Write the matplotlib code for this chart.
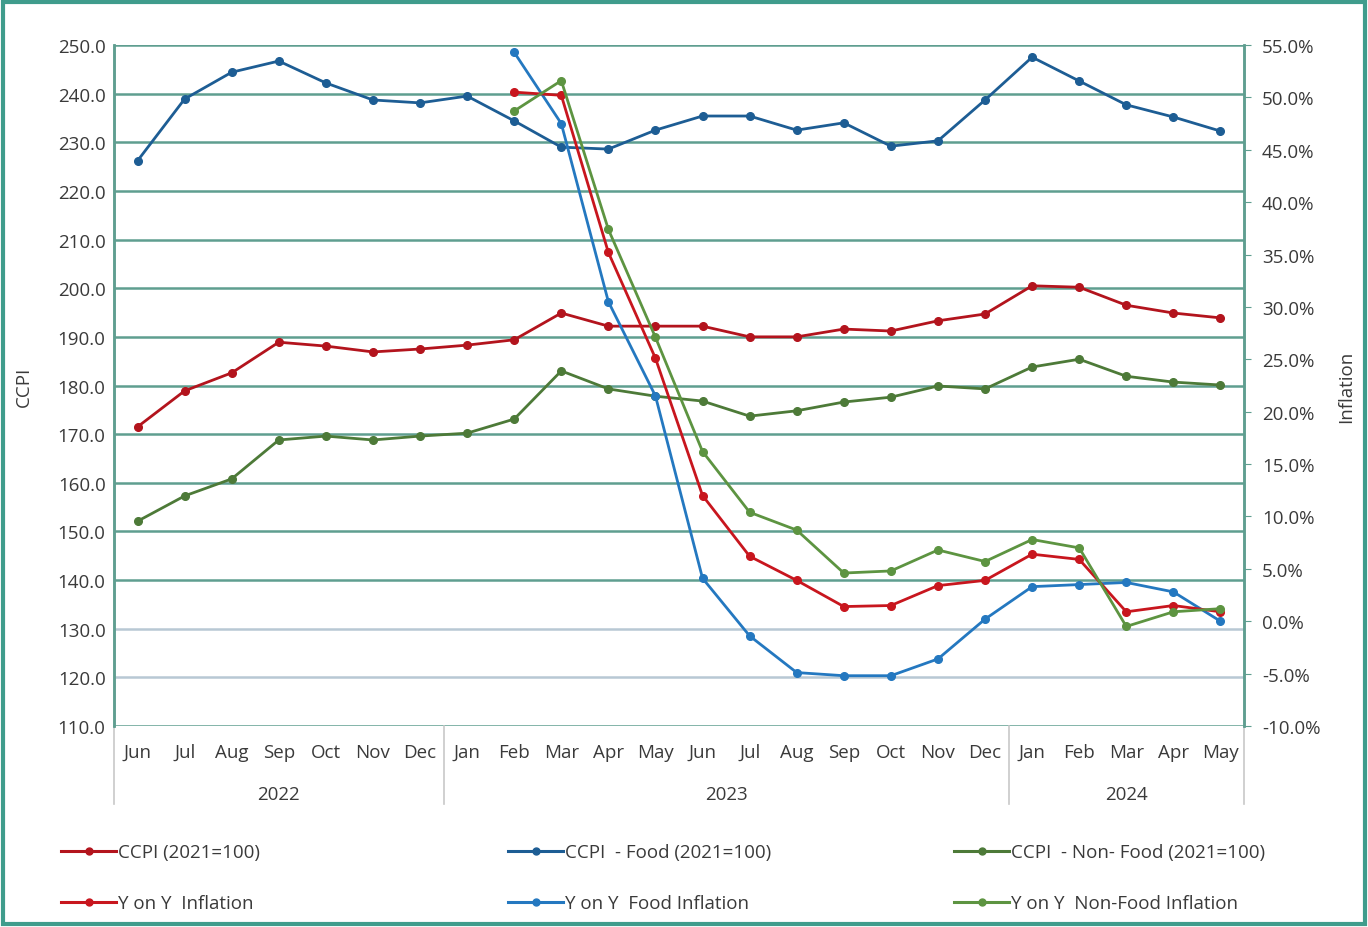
import numpy as np
import matplotlib.pyplot as plt
from matplotlib.lines import Line2D
from matplotlib.patches import Rectangle
import matplotlib.transforms as mtransforms

plt.rcParams['font.family'] = ['Open Sans', 'DejaVu Sans']

months = ['Jun', 'Jul', 'Aug', 'Sep', 'Oct', 'Nov', 'Dec',
          'Jan', 'Feb', 'Mar', 'Apr', 'May', 'Jun', 'Jul', 'Aug', 'Sep', 'Oct', 'Nov', 'Dec',
          'Jan', 'Feb', 'Mar', 'Apr', 'May']
years = ['2022', '2023', '2024']
year_spans = [(0, 7), (7, 19), (19, 24)]

ccpi = [171.5, 178.9, 182.6, 188.9, 188.1, 186.9, 187.5,
        188.3, 189.4, 194.9, 192.2, 192.2, 192.2, 190.0, 190.0, 191.6, 191.2, 193.3, 194.7,
        200.5, 200.2, 196.5, 194.9, 193.9]
ccpi_food = [226.2, 238.9, 244.4, 246.7, 242.2, 238.7, 238.1,
             239.5, 234.4, 229.0, 228.6, 232.5, 235.4, 235.4, 232.5, 234.0, 229.2, 230.3, 238.7,
             247.5, 242.6, 237.7, 235.2, 232.3]
ccpi_nonfood = [152.1, 157.3, 160.8, 168.8, 169.6, 168.8, 169.6,
                170.2, 173.1, 183.0, 179.3, 177.8, 176.8, 173.7, 174.8, 176.6, 177.6, 179.9, 179.3,
                183.8, 185.4, 181.9, 180.7, 180.1]

# inflation series start at Feb 2023 (index 8)
infl_start = 8
infl = [50.5, 50.2, 35.2, 25.1, 12.0, 6.2, 3.9, 1.4, 1.5, 3.4, 3.9, 6.4, 5.9, 0.9, 1.5, 0.9]
infl_food = [54.3, 47.5, 30.5, 21.5, 4.1, -1.4, -4.9, -5.2, -5.2, -3.6, 0.2, 3.3, 3.5, 3.7, 2.8, 0.0]
infl_nonfood = [48.7, 51.6, 37.4, 27.1, 16.2, 10.4, 8.7, 4.6, 4.8, 6.8, 5.7, 7.8, 7.0, -0.5, 0.9, 1.2]

c_ccpi = '#b3141d'
c_food = '#1d5d94'
c_nonfood = '#4d7a38'
c_infl = '#c8161e'
c_infl_food = '#2478c0'
c_infl_nonfood = '#5d9441'
teal = '#5f9e90'
txt = '#3a3a3a'

fig = plt.figure(figsize=(13.68, 9.28), dpi=100)
ax = fig.add_axes([114/1368, 1-727/928, (1244-114)/1368, (727-46)/928])
ax2 = ax.twinx()

x = np.arange(len(months))
xi = x[infl_start:]

lw = 2.0
ms = 5.5
ax.plot(x, ccpi, color=c_ccpi, lw=lw, marker='o', ms=ms, zorder=3)
ax.plot(x, ccpi_food, color=c_food, lw=lw, marker='o', ms=ms, zorder=3)
ax.plot(x, ccpi_nonfood, color=c_nonfood, lw=lw, marker='o', ms=ms, zorder=3)
ax2.plot(xi, infl_food, color=c_infl_food, lw=lw, marker='o', ms=ms)
ax2.plot(xi, infl, color=c_infl, lw=lw, marker='o', ms=ms)
ax2.plot(xi, infl_nonfood, color=c_infl_nonfood, lw=lw, marker='o', ms=ms)

ax.set_xlim(-0.5, len(months)-0.5)
ax.set_ylim(110, 250)
ax.set_yticks(np.arange(110, 251, 10))
ax.set_yticklabels(['%.1f' % v for v in np.arange(110, 251, 10)])
ax2.set_ylim(-10, 55)
ax2.set_yticks(np.arange(-10, 56, 5))
ax2.set_yticklabels(['%.1f%%' % v for v in np.arange(-10, 56, 5)])

for v in np.arange(110, 251, 10):
    gc = '#b8c8d4' if v in (120, 130) else teal
    ax.axhline(v, color=gc, lw=1.8, zorder=1)

ax.set_xticks(x)
ax.set_xticklabels(months)
ax.tick_params(axis='x', length=0, pad=12, labelsize=13.5, labelcolor=txt)
ax.tick_params(axis='y', length=0, pad=6, labelsize=13.5, labelcolor=txt)
ax2.tick_params(axis='y', length=5, color=teal, pad=8, labelsize=13.5, labelcolor=txt)

for a in (ax, ax2):
    a.spines['top'].set_visible(False)
    a.spines['bottom'].set_visible(False)
    a.spines['left'].set_color(teal)
    a.spines['right'].set_color(teal)
    a.spines['left'].set_linewidth(1.8)
    a.spines['right'].set_linewidth(1.8)

ax.set_ylabel('CCPI', fontsize=13.5, color=txt, labelpad=18)
ax2.set_ylabel('Inflation', fontsize=13.5, color=txt, labelpad=12)

# year groups under month labels
trans = mtransforms.blended_transform_factory(ax.transData, ax.transAxes)
for yr, (s, e) in zip(years, year_spans):
    ax.text((s + e - 1) / 2, -0.1, yr, transform=trans, ha='center', va='center',
            fontsize=13.5, color=txt)
for b in [0, 7, 19, 24]:
    ax.add_line(Line2D([b - 0.5, b - 0.5], [0, -0.115], transform=trans,
                       color='#c8c8c8', lw=1.2, clip_on=False))

# legends
groups = [
    [('CCPI (2021=100)', c_ccpi), ('Y on Y  Inflation', c_infl)],
    [('CCPI  - Food (2021=100)', c_food), ('Y on Y  Food Inflation', c_infl_food)],
    [('CCPI  - Non- Food (2021=100)', c_nonfood), ('Y on Y  Non-Food Inflation', c_infl_nonfood)],
]
xs = [52, 499, 945]
for g, lx in zip(groups, xs):
    handles = [Line2D([], [], color=c, lw=2.2, marker='o', ms=5) for _, c in g]
    fig.legend(handles, [l for l, _ in g], loc='upper left',
               bbox_to_anchor=(lx/1368, 1-835/928), frameon=False,
               fontsize=13.5, handlelength=2.9, handletextpad=0.1,
               labelspacing=1.75, labelcolor=txt, borderpad=0)

fig.patches.append(Rectangle((0.002, 0.003), 0.996, 0.994, transform=fig.transFigure,
                             fill=False, edgecolor='#3f9c8c', lw=3))

fig.savefig('out.png', dpi=100)
